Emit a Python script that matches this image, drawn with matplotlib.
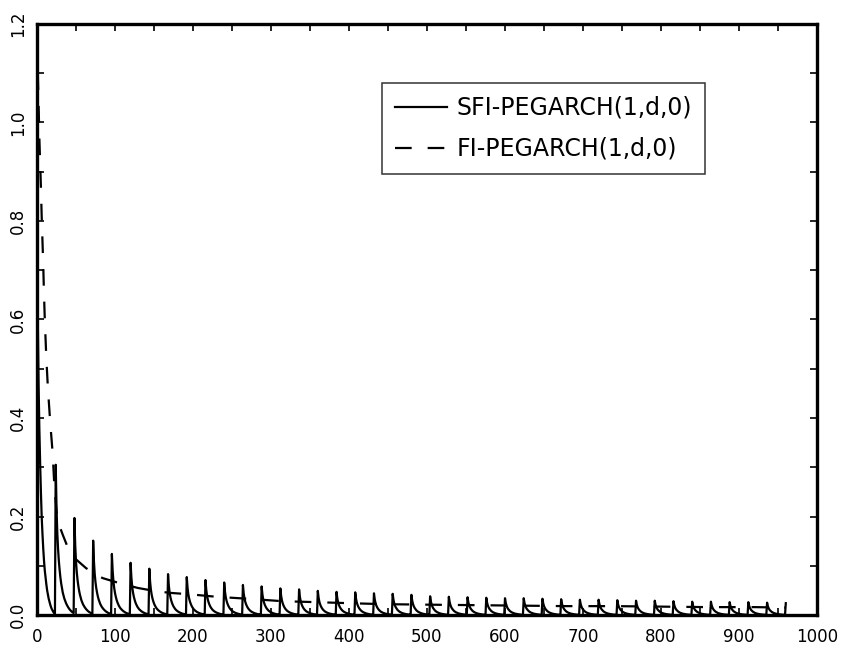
import matplotlib
matplotlib.use('Agg')
import matplotlib.pyplot as plt
import numpy as np
from matplotlib.ticker import MultipleLocator

# SFI-PEGARCH(1,d,0): values at lags 1..23, before the first seasonal spike
sfi_first = [0.60, 0.47, 0.38, 0.31, 0.25, 0.20, 0.165, 0.135, 0.11, 0.09,
             0.075, 0.062, 0.05, 0.041, 0.033, 0.027, 0.021, 0.016, 0.012,
             0.009, 0.006, 0.004, 0.003]
# spike heights at lags 24, 48, ..., 960
sfi_peaks = [0.305, 0.197, 0.151, 0.124, 0.106, 0.094, 0.083, 0.077, 0.071, 0.066,
             0.061, 0.058, 0.054, 0.052, 0.049, 0.047, 0.046, 0.044, 0.043, 0.041,
             0.038, 0.037, 0.036, 0.035, 0.034, 0.034, 0.033, 0.032, 0.031, 0.031,
             0.030, 0.029, 0.029, 0.028, 0.027, 0.027, 0.026, 0.026, 0.025, 0.024]
# decay after each spike, relative to the spike height (offsets 0..23)
sfi_decay = [1.0, 0.72, 0.55, 0.44, 0.36, 0.30, 0.25, 0.21, 0.18, 0.15,
             0.13, 0.11, 0.095, 0.082, 0.07, 0.06, 0.051, 0.043, 0.036,
             0.03, 0.025, 0.02, 0.016, 0.013]
period = 24

# FI-PEGARCH(1,d,0)
fi_lags = [1, 2, 3, 4, 5, 6, 7, 8, 9, 10, 12, 14, 17, 20, 22, 25, 29, 33, 42, 50,
           63, 84, 105, 129, 150, 170, 196, 230, 270, 315, 360, 400, 445, 500,
           560, 620, 680, 740, 800, 860, 920, 960]
fi_vals = [1.10, 1.04, 0.97, 0.92, 0.87, 0.81, 0.76, 0.71, 0.65, 0.60, 0.52, 0.46,
           0.39, 0.33, 0.27, 0.21, 0.18, 0.163, 0.127, 0.113, 0.095, 0.075, 0.065,
           0.055, 0.049, 0.045, 0.042, 0.037, 0.033, 0.028, 0.026, 0.024, 0.022,
           0.021, 0.020, 0.019, 0.018, 0.018, 0.017, 0.016, 0.016, 0.015]

labels = ['SFI-PEGARCH(1,d,0)', 'FI-PEGARCH(1,d,0)']

# assemble the seasonal series: spike followed by its decay, one per period
sfi_vals = list(sfi_first)
for k, peak in enumerate(sfi_peaks):
    n = 1 if k == len(sfi_peaks) - 1 else period
    sfi_vals += [peak * r for r in sfi_decay[:n]]
sfi_lags = np.arange(1, len(sfi_vals) + 1)

plt.rcParams['font.family'] = ['DejaVu Sans']
plt.rcParams['lines.scale_dashes'] = False

W, H = 844, 650
fig = plt.figure(figsize=(W / 100, H / 100), dpi=100)
ax = fig.add_axes([37 / W, 1 - 615 / H, (817 - 37) / W, (615 - 24) / H])

ax.plot(sfi_lags, sfi_vals, color='black', linewidth=1.6, label=labels[0])
ax.plot(fi_lags, fi_vals, color='black', linewidth=1.6, dashes=(12, 11.5),
        label=labels[1])

ax.set_xlim(0, 1000)
ax.set_ylim(0, 1.2)
ax.xaxis.set_major_locator(MultipleLocator(100))
ax.xaxis.set_minor_locator(MultipleLocator(50))
ax.yaxis.set_major_locator(MultipleLocator(0.2))
ax.yaxis.set_minor_locator(MultipleLocator(0.1))
ax.tick_params(which='both', direction='in', top=True, right=True,
               length=5, width=1.2, labelsize=12)
ax.tick_params(axis='x', pad=9)
ax.tick_params(axis='y', pad=7, labelrotation=90)
for lab in ax.get_yticklabels():
    lab.set_va('center')
for sp in ax.spines.values():
    sp.set_linewidth(2.4)

leg = ax.legend(loc='upper left', bbox_to_anchor=(382 / W, 1 - 83 / H),
                bbox_transform=fig.transFigure, borderaxespad=0, fontsize=17,
                frameon=True, fancybox=False, edgecolor='black',
                handlelength=2.2, handletextpad=0.4, borderpad=0.55,
                labelspacing=0.72)
leg.get_frame().set_linewidth(1.1)

fig.savefig('out.png', dpi=100)
